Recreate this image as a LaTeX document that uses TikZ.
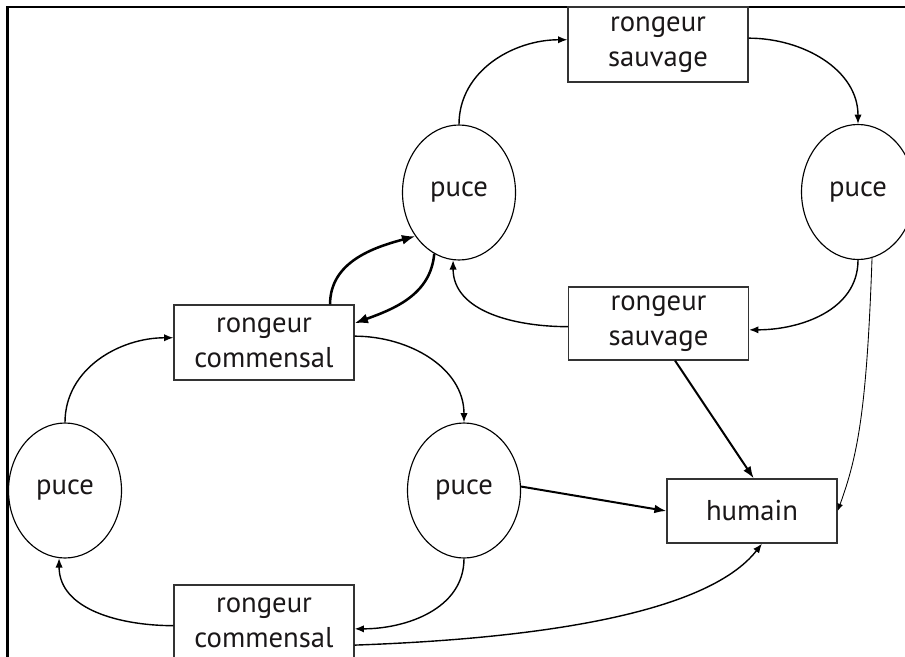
\documentclass[tikz,border=0pt]{standalone}
\usepackage{fontspec}
\setmainfont{PT Sans}
\usetikzlibrary{arrows.meta,shapes.geometric}
\definecolor{ink}{HTML}{1A1718}
\tikzset{
  pucenode/.style={ellipse, draw=black, line width=0.85pt, inner sep=0pt,
    minimum width=84.75pt, minimum height=101.25pt, text=ink,
    font=\fontsize{21.5}{26}\selectfont},
  boxnode/.style={rectangle, draw=black!80, line width=0.95pt, inner sep=0pt,
    minimum width=135pt, minimum height=56.25pt, align=center, text=ink,
    font=\fontsize{21.5}{26}\selectfont},
  arr/.style={line width=1.05pt, -{Latex[length=7pt,width=5.5pt]}},
  thickarr/.style={line width=1.9pt, -{Latex[length=10pt,width=7.5pt]}},
  medarr/.style={line width=1.5pt, -{Latex[length=9pt,width=6.5pt]}},
  thinarr/.style={line width=0.65pt, -{Latex[length=5.5pt,width=4.5pt]}},
}
\begin{document}
\begin{tikzpicture}[x=0.75pt,y=0.75pt]
\useasboundingbox (0,0) rectangle (905,-656);
\begin{scope}
\clip (0,0) rectangle (905,-656);
% frame
\draw[line width=1.6pt] (7.5,-660) -- (7.5,-6.7) -- (910,-6.7);
% nodes
\node[pucenode] (pA) at (459,-192.5) {puce};
\node[pucenode] (pB) at (858,-192) {puce};
\node[pucenode] (pC) at (464,-490.5) {puce};
\node[pucenode] (pD) at (65,-490.5) {puce};
\node[boxnode, fill=white] (rs1) at (658,-44.5) {rongeur\\sauvage};
\node[boxnode, minimum height=54.75pt] (rs2) at (658.5,-323.5) {rongeur\\sauvage};
\node[boxnode] (rc1) at (264,-342.5) {rongeur\\commensal};
\node[boxnode] (rc2) at (264,-622.5) {rongeur\\commensal};
\node[boxnode, minimum width=127.5pt, minimum height=48pt] (hu) at (752,-511) {humain};
% connectors
\draw[arr] (pD.north) to[out=90,in=180] (rc1.177);
\draw[arr] (rc1.4) to[out=0,in=90] (pC.north);
\draw[thickarr] (rc1.30) to[out=90,in=195] (pA.225);
\draw[thickarr] (pA.248) to[out=-95,in=20] (rc1.12);
\draw[arr] (pA.north) to[out=90,in=180] (rs1.177);
\draw[arr] (rs1.4) to[out=0,in=90] (pB.north);
\draw[arr] (pB.south) to[out=-90,in=0] (rs2.-4);
\draw[arr] (rs2.182) to[out=180,in=-90] (pA.265);
\draw[medarr] (rs2.-66) -- (hu.87);
\draw[thinarr] (pB.-78) .. controls +(-92:150) and +(70:60) .. (hu.east);
\draw[medarr] (pC.4) -- (hu.west);
\draw[arr] (pC.south) to[out=-90,in=0] (rc2.-4);
\draw[arr] (rc2.182) to[out=180,in=-90] (pD.265);
\draw[arr] (rc2.-14) .. controls +(2:180) and +(232:90) .. (hu.-73);
\end{scope}
\end{tikzpicture}
\end{document}
